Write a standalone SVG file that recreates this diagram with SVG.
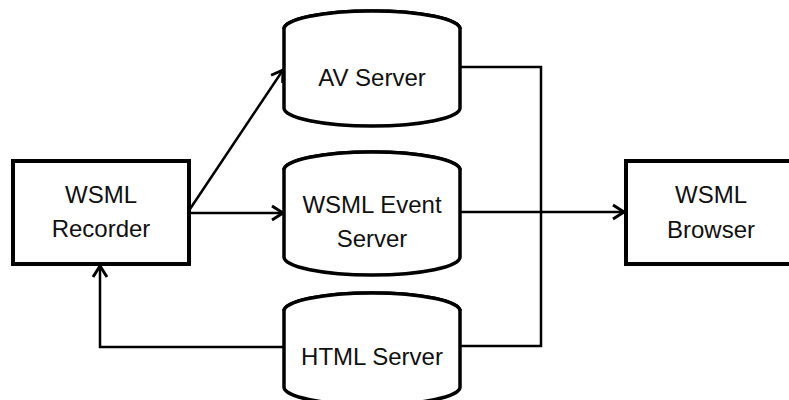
<svg xmlns="http://www.w3.org/2000/svg" width="789" height="400" viewBox="0 0 789 400">
<style>
.box{fill:#fff;stroke:#000;stroke-width:4}
.cyl{fill:#fff;stroke:#000;stroke-width:3.5;stroke-linejoin:round}
.lbl{font-family:"Liberation Sans",Arial,sans-serif;font-size:24px;fill:#111;text-anchor:middle}
.conn{fill:none;stroke:#000;stroke-width:2.5}
</style>
<defs>
<marker id="arr" markerUnits="userSpaceOnUse" markerWidth="16" markerHeight="18" viewBox="0 0 16 18" refX="13" refY="9" orient="auto">
<path d="M2,2 L13,9 L2,16" fill="none" stroke="#000" stroke-width="3" stroke-linejoin="miter"/>
</marker>
</defs>
<rect width="789" height="400" fill="#fff"/>
<g id="connectors">
<path class="conn" d="M190,209 L283,70" marker-end="url(#arr)"/>
<path class="conn" d="M189,213 L283,213" marker-end="url(#arr)"/>
<path class="conn" d="M460,67 H541 V346 H460"/>
<path class="conn" d="M460,212 H624" marker-end="url(#arr)"/>
<path class="conn" d="M284,347 H100 V266" marker-end="url(#arr)"/>
</g>
<g id="recorder">
<rect class="box" x="13" y="161" width="176" height="103"/>
<text class="lbl" x="101" y="203">WSML</text>
<text class="lbl" x="101" y="237">Recorder</text>
</g>
<g id="av-server">
<path class="cyl" d="M284,29 L284,108 A88,18 0 0 0 460,108 L460,29 A88,18 0 0 0 284,29 Z"/>
<path class="cyl" fill="none" d="M284,29 A88,18 0 0 1 460,29"/>
<text class="lbl" x="372" y="86">AV Server</text>
</g>
<g id="event-server">
<path class="cyl" d="M284,170 L284,257 A88,18 0 0 0 460,257 L460,170 A88,18 0 0 0 284,170 Z"/>
<path class="cyl" fill="none" d="M284,170 A88,18 0 0 1 460,170"/>
<text class="lbl" x="372" y="213">WSML Event</text>
<text class="lbl" x="372" y="247">Server</text>
</g>
<g id="html-server">
<path class="cyl" d="M284,311 L284,387 A88,18 0 0 0 460,387 L460,311 A88,18 0 0 0 284,311 Z"/>
<path class="cyl" fill="none" d="M284,311 A88,18 0 0 1 460,311"/>
<text class="lbl" x="372" y="365">HTML Server</text>
</g>
<g id="browser">
<rect class="box" x="626" y="161" width="170" height="103"/>
<text class="lbl" x="711" y="203">WSML</text>
<text class="lbl" x="711" y="238">Browser</text>
</g>
</svg>
